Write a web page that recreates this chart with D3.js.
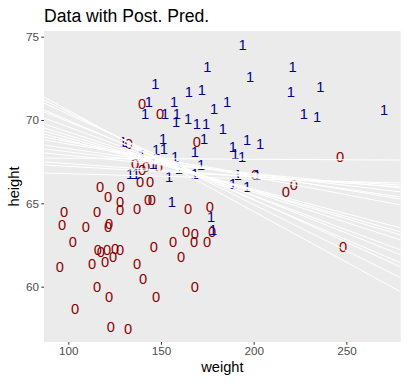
<!DOCTYPE html>
<html><head><meta charset="utf-8">
<script src="https://cdn.jsdelivr.net/npm/d3@7"></script>
<style>body{margin:0;background:#fff;} svg{display:block;}</style>
</head><body>
<svg id="chart" width="408" height="384"></svg>
<script>
// group 1 (male = "1")
const weight1 = [194,175,221,198,147,165,172,220,236,157,143.5,185.6,178.6,141.4,152.2,158.6,158.1,164.6,169.4,174.3,227.1,234.2,270.3,183.4,129.5,151.1,151.6,147.3,173.2,168.3,196.4,203.4,188.8,189.9,193.7,139.8,157.6,145.7,171.6,159.7,168.3,133.3,136.5,154.3,191.5,201.8,188.8,196.4,155.9,177,178.1];
const height1 = [74.5,73.2,73.2,72.6,72.2,71.7,71.8,71.7,72.0,71.1,71.1,71.1,70.7,70.4,70.4,70.4,69.9,70.1,69.8,69.8,70.4,70.2,70.6,69.5,68.7,68.9,68.3,68.2,68.9,68.1,68.8,68.6,68.4,68.0,67.8,67.9,67.8,67.4,67.3,67.1,66.8,66.8,66.8,66.6,66.7,66.7,66.2,66.0,65.1,64.2,63.4];
// group 0 (male = "0")
const weight0 = [139.8,149.5,132.7,169.4,136,141.9,148.9,139.8,138.7,144.1,117.1,128.4,246.6,200.7,217.4,221.7,121.4,127.9,127.9,143,145.1,137.1,164.6,176.4,97.7,115.5,96.6,109.5,121.4,122,163.5,168.3,177.5,174.8,102.5,156.5,167.8,116,117.6,120.9,125.2,127.9,146.2,160.8,95.5,112.8,119.8,124.1,137.1,140.3,115.5,122,147.3,168.3,103.6,123,132.2,248.2];
const height0 = [71.0,70.4,68.6,68.7,67.4,67.2,67.2,67.0,66.3,66.3,66.0,66.0,67.8,66.7,65.7,66.1,65.4,65.1,64.6,65.2,65.2,64.7,64.7,64.8,64.5,64.5,63.7,63.6,63.6,63.8,63.3,63.2,63.3,62.7,62.7,62.7,62.7,62.2,62.1,62.2,62.3,62.2,62.4,61.8,61.2,61.4,61.5,61.8,61.4,60.5,60.0,59.4,59.4,60.0,58.7,57.6,57.5,62.4];
// posterior predictive threshold lines: height = intercept + slope * weight
const lineIntercepts = [76.66,76.02,75.46,74.75,74.36,73.70,72.90,72.42,72.08,71.71,70.82,70.40,69.91,69.43,68.97,67.77,68.16,67.84,67.09];
const lineSlopes = [-0.06076,-0.05546,-0.05114,-0.04771,-0.04459,-0.04116,-0.03617,-0.03337,-0.03150,-0.02931,-0.02121,-0.01840,-0.01622,-0.01341,-0.01091,-0.00062,-0.00780,-0.00624,-0.00312];
const xTicks = [100,150,200,250];
const yTicks = [60,65,70,75];
const xDomain = [86.9,279.3];
const yDomain = [56.68,75.34];

const svg = d3.select("#chart");
const m = {left:44, top:31, right:7.3, bottom:42};
const W = 408, H = 384;
const x = d3.scaleLinear().domain(xDomain).range([m.left, W - m.right]);
const y = d3.scaleLinear().domain(yDomain).range([H - m.bottom, m.top]);
const font = "'Liberation Sans', Arial, Helvetica, sans-serif";

svg.append("rect").attr("x", m.left).attr("y", m.top)
  .attr("width", W - m.right - m.left).attr("height", H - m.bottom - m.top)
  .attr("fill", "#EBEBEB");

svg.append("clipPath").attr("id","clip").append("rect")
  .attr("x", m.left).attr("y", m.top)
  .attr("width", W - m.right - m.left).attr("height", H - m.bottom - m.top);

const pts = [];
weight0.forEach((w,i)=>pts.push({w, h:height0[i], g:"0"}));
weight1.forEach((w,i)=>pts.push({w, h:height1[i], g:"1"}));
const sz = 14.67;
svg.append("g").selectAll("text").data(pts).join("text")
  .attr("x", d=>x(d.w)).attr("y", d=>y(d.h) + sz*0.36)
  .attr("text-anchor","middle")
  .attr("font-family", font).attr("font-size", sz)
  .attr("fill", d=>d.g==="0" ? "#8B0000" : "#00008B")
  .text(d=>d.g);

const lines = lineIntercepts.map((a,i)=>({a, b:lineSlopes[i]}));
svg.append("g").attr("clip-path","url(#clip)").selectAll("line").data(lines).join("line")
  .attr("x1", x(xDomain[0])).attr("x2", x(xDomain[1]))
  .attr("y1", d=>y(d.a + d.b*xDomain[0])).attr("y2", d=>y(d.a + d.b*xDomain[1]))
  .attr("stroke","#FFFFFF").attr("stroke-width",1);

// axes
const xAxis = d3.axisBottom(x).tickValues(xTicks).tickSize(2.75).tickPadding(2.2);
const gx = svg.append("g").attr("transform",`translate(0,${H - m.bottom})`).call(xAxis);
const yAxis = d3.axisLeft(y).tickValues(yTicks).tickSize(2.75).tickPadding(2.2);
const gy = svg.append("g").attr("transform",`translate(${m.left},0)`).call(yAxis);
[gx,gy].forEach(g=>{
  g.select(".domain").remove();
  g.selectAll(".tick line").attr("stroke","#333333").attr("stroke-width",1);
  g.selectAll(".tick text").attr("fill","#4D4D4D").attr("font-size",11.7).attr("font-family",font);
});

svg.append("text").attr("x", (m.left + W - m.right)/2).attr("y", 372)
  .attr("text-anchor","middle").attr("font-family",font).attr("font-size",14.67)
  .attr("fill","#000").text("weight");
svg.append("text").attr("transform",`translate(19,${(m.top + H - m.bottom)/2}) rotate(-90)`)
  .attr("text-anchor","middle").attr("font-family",font).attr("font-size",14.67)
  .attr("fill","#000").text("height");
svg.append("text").attr("x", 44).attr("y", 22)
  .attr("font-family",font).attr("font-size",17.6)
  .attr("fill","#000").text("Data with Post. Pred.");
</script>
</body></html>
